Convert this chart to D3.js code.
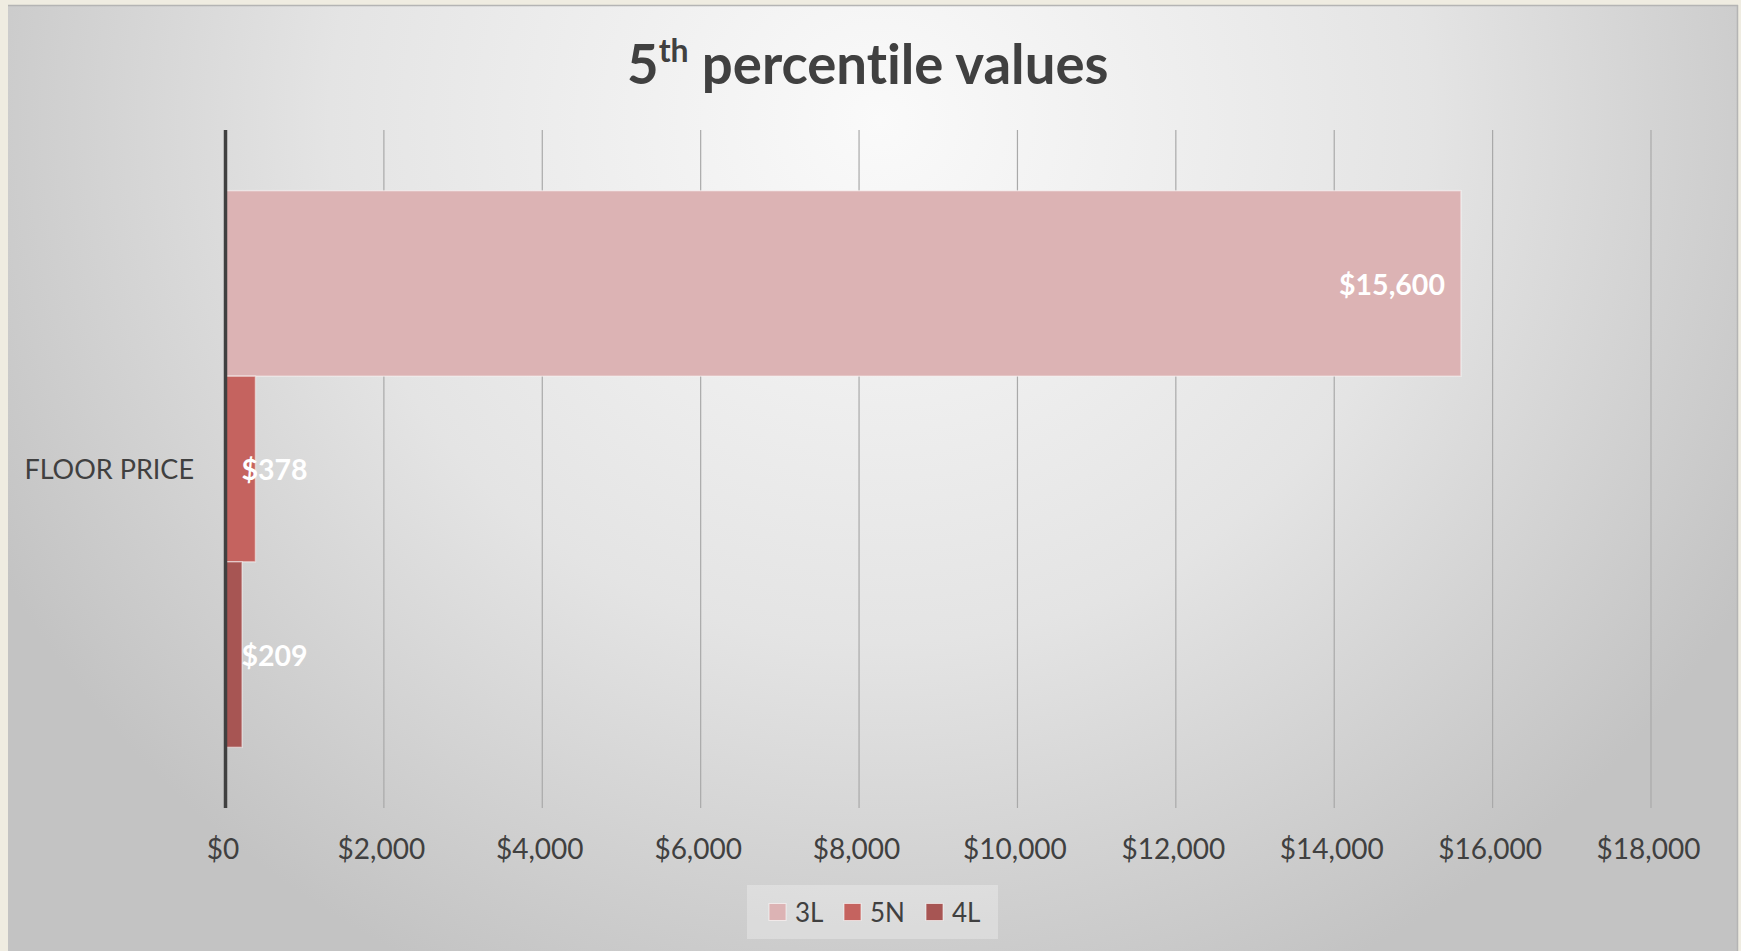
<!DOCTYPE html>
<html>
<head>
<meta charset="utf-8">
<script src="https://cdn.jsdelivr.net/npm/d3@7"></script>
<style>
  html, body { margin: 0; padding: 0; background: #efece1; }
  svg { display: block; }
  text { font-family: Lato, "Open Sans", sans-serif; font-variant-ligatures: none; }
</style>
</head>
<body>
<svg id="chart" width="1741" height="951"></svg>
<script>
// ---- data ----
const categories = ["FLOOR PRICE"];
const seriesNames = ["3L", "5N", "4L"];
const seriesValues = [15600, 378, 209];
const seriesColors = ["#dcb3b4", "#c5635f", "#a75553"];
const tickValues = [0, 2000, 4000, 6000, 8000, 10000, 12000, 14000, 16000, 18000];
const titleMain = "5";
const titleSup = "th";
const titleRest = " percentile values";

const W = 1741, H = 951;
const svg = d3.select("#chart");
const defs = svg.append("defs");

// background gradient
const grad = defs.append("radialGradient")
  .attr("id", "bg").attr("gradientUnits", "userSpaceOnUse")
  .attr("cx", 880).attr("cy", 120).attr("r", 1000)
  .attr("gradientTransform", "translate(880,120) scale(1,0.95) translate(-880,-120)");
grad.append("stop").attr("offset", "0").attr("stop-color", "#fafafa");
grad.append("stop").attr("offset", "0.55").attr("stop-color", "#e4e4e4");
grad.append("stop").attr("offset", "1").attr("stop-color", "#c3c3c3");

svg.append("rect").attr("x", 0).attr("y", 0).attr("width", W).attr("height", H).attr("fill", "#efece1");
svg.append("rect").attr("x", 8).attr("y", 5).attr("width", 1730).attr("height", H - 5).attr("fill", "url(#bg)");
svg.append("line").attr("x1", 8).attr("x2", 1738).attr("y1", 5.5).attr("y2", 5.5).attr("stroke", "#b4b4b4").attr("stroke-width", 1.5);
svg.append("line").attr("x1", 1737.5).attr("x2", 1737.5).attr("y1", 5).attr("y2", H).attr("stroke", "#b4b4b4").attr("stroke-width", 1.5);

// scales
const plotTop = 130, plotBottom = 808;
const x = d3.scaleLinear().domain([0, 18000]).range([225.5, 1651]);
const y = d3.scaleBand().domain(categories).range([plotTop, plotBottom]).paddingInner(0).paddingOuter(0.109);
const ys = d3.scaleBand().domain(seriesNames).range([0, y.bandwidth()]).padding(0);
const fmt = v => "$" + d3.format(",")(v);

// gridlines
svg.append("g").selectAll("line").data(tickValues.filter(v => v !== 0)).join("line")
  .attr("x1", d => x(d)).attr("x2", d => x(d))
  .attr("y1", plotTop).attr("y2", plotBottom)
  .attr("stroke", "#a9a9a9").attr("stroke-width", 1.2);

// x axis tick labels
const xAxis = d3.axisBottom(x).tickValues(tickValues).tickFormat(fmt).tickSize(0).tickPadding(0);
const gx = svg.append("g").attr("transform", `translate(0, ${plotBottom})`).call(xAxis);
gx.select(".domain").remove();
gx.selectAll("text").attr("dy", 0).attr("y", 51).attr("dx", -3)
  .attr("fill", "#404040").style("font-size", "28px").style("font-family", "Lato, sans-serif");

// bars
const bars = svg.append("g");
categories.forEach(cat => {
  bars.selectAll("rect.s").data(seriesNames.map((s, i) => ({ s, v: seriesValues[i], c: seriesColors[i] })))
    .join("rect")
    .attr("x", x(0))
    .attr("y", d => y(cat) + ys(d.s))
    .attr("width", d => x(d.v) - x(0))
    .attr("height", ys.bandwidth())
    .attr("fill", d => d.c)
    .attr("stroke", "rgba(255,255,255,0.45)").attr("stroke-width", 1.5);
});

// y axis line (value zero)
svg.append("line").attr("x1", x(0)).attr("x2", x(0)).attr("y1", plotTop).attr("y2", plotBottom)
  .attr("stroke", "#404040").attr("stroke-width", 3.5);

// category label
const yAxis = d3.axisLeft(y).tickSize(0).tickPadding(0);
const gy = svg.append("g").attr("transform", "translate(194, 0)").call(yAxis);
gy.select(".domain").remove();
gy.selectAll("text").attr("x", 0).attr("dy", "0.36em")
  .attr("fill", "#404040").style("font-size", "27px").style("font-family", "Lato, sans-serif");

// data labels
const labels = svg.append("g");
categories.forEach(cat => {
  seriesNames.forEach((s, i) => {
    const t = labels.append("text")
      .attr("fill", "#ffffff").attr("font-weight", "bold")
      .style("font-size", "28.5px")
      .attr("text-anchor", "end")
      .attr("dy", "0.36em")
      .attr("y", y(cat) + ys(s) + ys.bandwidth() / 2 + 1)
      .text(fmt(seriesValues[i]));
    const w = t.node().getComputedTextLength();
    t.attr("x", Math.max(x(seriesValues[i]) - 16, x(0) + 16 + w));
  });
});

// title
const title = svg.append("text").attr("x", 627).attr("y", 84)
  .attr("fill", "#404040").attr("font-weight", "bold").style("font-size", "54.5px");
title.append("tspan").text(titleMain);
title.append("tspan").attr("dy", -22).style("font-size", "32px").text(titleSup);
title.append("tspan").attr("dy", 22).text(titleRest);

// legend
const lg = svg.append("g");
lg.append("rect").attr("x", 747).attr("y", 885).attr("width", 251).attr("height", 54)
  .attr("fill", "rgba(255,255,255,0.28)");
const legendX = [769, 844, 926];
seriesNames.forEach((s, i) => {
  lg.append("rect").attr("x", legendX[i]).attr("y", 903.5).attr("width", 17).attr("height", 17)
    .attr("fill", seriesColors[i]).attr("stroke", "rgba(255,255,255,0.6)").attr("stroke-width", 1);
  lg.append("text").attr("x", legendX[i] + 26).attr("y", 921.5)
    .attr("fill", "#404040").style("font-size", "26px").text(s);
});
</script>
</body>
</html>
